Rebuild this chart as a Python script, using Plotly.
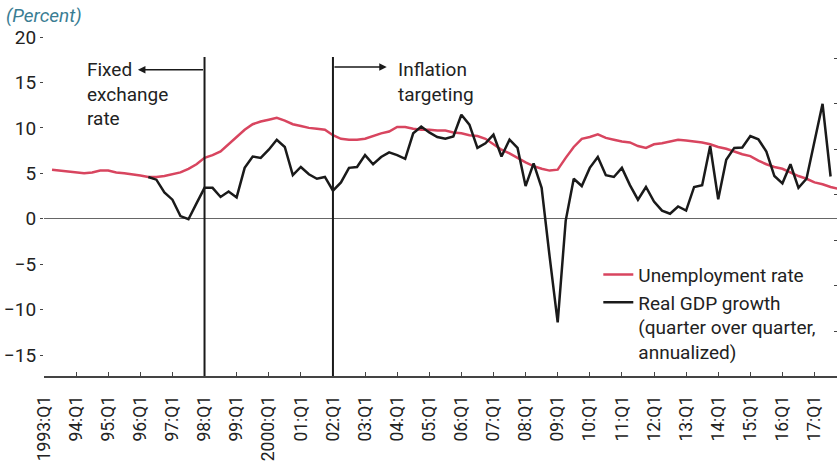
import plotly.graph_objects as go

# Quarter categories 1993:Q1 .. 2017:Q4
years = list(range(1993, 2018))
quarters = [f"{y}:Q{q}" for y in years for q in range(1, 5)]

# Unemployment rate, 1993:Q2 .. 2017:Q4
unemp_start = "1993:Q2"
unemployment = [
    5.4, 5.3, 5.2,
    5.1, 5.0, 5.1, 5.3,
    5.3, 5.1, 5.0, 4.9,
    4.75, 4.6, 4.6, 4.7,
    4.9, 5.1, 5.5, 6.0,
    6.7, 7.0, 7.4, 8.2,
    9.0, 9.8, 10.4, 10.7,
    10.9, 11.1, 10.8, 10.4,
    10.2, 10.0, 9.9, 9.8,
    9.2, 8.8, 8.7, 8.7,
    8.8, 9.1, 9.4, 9.6,
    10.1, 10.1, 9.9, 9.8,
    9.8, 9.7, 9.7, 9.5,
    9.4, 9.2, 9.1, 8.8,
    8.2, 7.6, 7.2, 6.7,
    6.2, 5.8, 5.5, 5.3,
    5.4, 6.7, 7.9, 8.8,
    9.0, 9.3, 8.9, 8.7,
    8.5, 8.4, 8.0, 7.8,
    8.2, 8.3, 8.5, 8.7,
    8.6, 8.5, 8.4, 8.2,
    7.9, 7.7, 7.4, 7.1,
    6.9, 6.4, 6.0, 5.7,
    5.5, 5.1, 4.7, 4.4,
    4.0, 3.8, 3.5, 3.3,
]

# Real GDP growth (q/q, annualized), 1996:Q2 .. 2017:Q3
gdp_start = "1996:Q2"
gdp_growth = [
    4.6, 4.3, 2.9,
    2.1, 0.3, -0.05, 1.7,
    3.4, 3.4, 2.4, 3.0,
    2.35, 5.6, 6.85, 6.7,
    7.6, 8.7, 7.9, 4.8,
    5.7, 4.9, 4.4, 4.6,
    3.1, 4.0, 5.6, 5.7,
    7.0, 6.0, 6.8, 7.3,
    7.0, 6.6, 9.4, 10.15,
    9.5, 9.0, 8.8, 9.05,
    11.45, 10.35, 7.8, 8.3,
    9.25, 6.85, 8.7, 7.8,
    3.6, 6.1, 3.4, -4.2,
    -11.4, -0.2, 4.4, 3.6,
    5.6, 6.8, 4.8, 4.6,
    5.6, 3.7, 2.1, 3.5,
    1.9, 0.9, 0.55, 1.35,
    0.9, 3.5, 3.7, 8.0,
    2.15, 6.5, 7.8, 7.85,
    9.1, 8.75, 7.4, 4.7,
    3.9, 6.0, 3.4, 4.4,
    8.7, 12.65, 4.65,
]

tick_quarters = [f"{y}:Q1" for y in years]
tick_labels = ["1993:Q1"] + [f"{y % 100:02d}:Q1" for y in range(1994, 2000)] + ["2000:Q1"] + \
              [f"{y % 100:02d}:Q1" for y in range(2001, 2018)]

regime_quarters = ["1998:Q1", "2002:Q1"]
regime_labels = ["Fixed<br>exchange<br>rate", "Inflation<br>targeting"]

idx = {q: i for i, q in enumerate(quarters)}
u0 = idx[unemp_start]
g0 = idx[gdp_start]
x_unemp = list(range(u0, u0 + len(unemployment)))
x_gdp = list(range(g0, g0 + len(gdp_growth)))

FONT = "Roboto, Liberation Sans, sans-serif"
FS = 19
RED = "#d8455f"
BLACK = "#1a1a1a"
AX = "#444444"
TXT = "#222222"

fig = go.Figure()
fig.add_trace(go.Scatter(x=x_unemp, y=unemployment, mode="lines", name="Unemployment rate",
                         line=dict(color=RED, width=2.5)))
fig.add_trace(go.Scatter(x=x_gdp, y=gdp_growth, mode="lines",
                         name="Real GDP growth<br>(quarter over quarter,<br>annualized)",
                         line=dict(color=BLACK, width=2.5)))
# empty trace to activate the right-hand axis
fig.add_trace(go.Scatter(x=[None], y=[None], yaxis="y2", showlegend=False, hoverinfo="skip"))

x_rng = [0, 98.8]
y_rng = [-17.3, 20]
fig.update_layout(
    width=837, height=462,
    margin=dict(l=44, r=0, t=37, b=86, autoexpand=False),
    paper_bgcolor="white", plot_bgcolor="white",
    font=dict(family=FONT, size=FS, color=TXT),
    showlegend=True,
    legend=dict(x=0.699, y=0.355, xanchor="left", yanchor="top", valign="top",
                bgcolor="rgba(0,0,0,0)", font=dict(size=FS, family=FONT, color=TXT),
                tracegroupgap=0, itemwidth=30),
    xaxis=dict(range=x_rng, tickmode="array", automargin=False,
               tickvals=[idx[q] for q in tick_quarters], ticktext=tick_labels,
               tickangle=-90, ticks="inside", ticklen=4, tickcolor=AX, tickwidth=1,
               ticklabelstandoff=11,
               showline=True, linecolor=AX, linewidth=1.5, showgrid=False, zeroline=False,
               tickfont=dict(size=17.5, family=FONT, color=TXT)),
    yaxis=dict(range=y_rng, tickmode="linear", tick0=0, dtick=5, automargin=False,
               ticks="outside", ticklen=3, tickcolor=AX, tickwidth=1,
               showline=False, showgrid=False,
               zeroline=True, zerolinecolor="#666666", zerolinewidth=1.2,
               tickfont=dict(size=FS, family=FONT, color=TXT)),
    yaxis2=dict(overlaying="y", side="right", range=[y_rng[0] + 2.35, y_rng[1] + 2.35],
                automargin=False,
                tickmode="linear", tick0=0, dtick=5, ticks="inside", ticklen=3,
                tickcolor=AX, showticklabels=False, showgrid=False, zeroline=False,
                showline=False),
)

# regime-change vertical lines
for q in regime_quarters:
    fig.add_shape(type="line", xref="x", yref="y", x0=idx[q], x1=idx[q],
                  y0=y_rng[0], y1=17.8, line=dict(color=BLACK, width=2))

# arrows
fig.add_annotation(x=11.7, y=16.4, ax=idx[regime_quarters[0]], ay=16.4,
                   xref="x", yref="y", axref="x", ayref="y", text="",
                   showarrow=True, arrowhead=2, arrowsize=1, arrowwidth=1.5, arrowcolor=BLACK)
fig.add_annotation(x=42.7, y=16.7, ax=idx[regime_quarters[1]], ay=16.7,
                   xref="x", yref="y", axref="x", ayref="y", text="",
                   showarrow=True, arrowhead=2, arrowsize=1, arrowwidth=1.5, arrowcolor=BLACK)

# regime labels
fig.add_annotation(x=5.1, y=17.9, xref="x", yref="y", text=regime_labels[0], showarrow=False,
                   xanchor="left", yanchor="top", align="left",
                   font=dict(size=FS, family=FONT, color=TXT))
fig.add_annotation(x=43.8, y=17.9, xref="x", yref="y", text=regime_labels[1], showarrow=False,
                   xanchor="left", yanchor="top", align="left",
                   font=dict(size=FS, family=FONT, color=TXT))

# units label
fig.add_annotation(x=0, y=1, xref="paper", yref="paper", xshift=-40, yshift=22,
                   text="<i>(Percent)</i>", showarrow=False, xanchor="left", yanchor="middle",
                   font=dict(size=FS, family=FONT, color="#3a7d93"))

fig.write_html("out.html", config={"displayModeBar": False},
               post_script="document.body.style.margin='0';document.body.style.padding='0';")
